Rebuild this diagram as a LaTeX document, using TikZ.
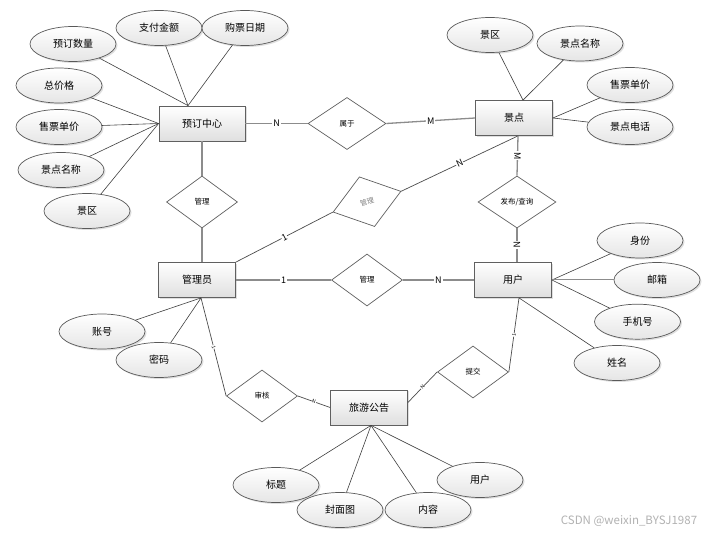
\documentclass[tikz,border=0pt]{standalone}
\usepackage{fontspec}
\setmainfont{Noto Sans CJK SC}
\usetikzlibrary{shapes.geometric,shadows,calc}
\begin{document}
\begin{tikzpicture}[x=1pt,y=-1pt,
  shad/.style={drop shadow={opacity=0.25,shadow xshift=1.5pt,shadow yshift=-1.5pt}},
  ent/.style={rectangle, draw=gray!75!black, line width=0.8pt, top color=white, bottom color=gray!25,
    minimum width=77pt, minimum height=35pt, inner sep=0pt, font=\fontsize{10}{12}\selectfont, shad},
  attr/.style={ellipse, draw=gray!70!black, line width=0.7pt, top color=white, bottom color=gray!20,
    minimum width=86pt, minimum height=35pt, inner sep=0pt, font=\fontsize{10}{12}\selectfont, shad},
  rel/.style={diamond, draw=gray!75!black, line width=0.7pt, fill=white, aspect=1.4,
    minimum width=71pt, minimum height=52pt, inner sep=0pt, font=\fontsize{7.5}{9}\selectfont},
  al/.style={draw=black!75, line width=0.6pt},
  rl/.style={draw=gray!90, line width=1.3pt},
  dl/.style={draw=black!70, line width=0.7pt},
  lab/.style={fill=white, inner sep=0.8pt, font=\fontsize{9}{10}\selectfont},
  tiny/.style={fill=white, inner sep=0.3pt, font=\fontsize{5}{5}\selectfont, sloped}
]
\useasboundingbox (0,0) rectangle (723,534);
\fill[white] (0,0) rectangle (723,534);

% entities
\node[ent, minimum width=86pt] (yd) at (202,123.5) {预订中心};
\node[ent] (jd) at (514,118) {景点};
\node[ent] (gly) at (197,280) {管理员};
\node[ent] (yh) at (513,280) {用户};
\node[ent] (ly) at (369,407.5) {旅游公告};

% relationships
\node[rel, minimum width=78pt] (sy) at (347,123.5) {属于};
\node[rel] (gl1) at (202,202) {管理};
\node[rel, rotate=17, text=gray, font=\fontsize{7}{8}\selectfont] (gl2) at (367,201.7) {管理};
\node[rel, minimum width=78pt] (fb) at (517,202) {发布/查询};
\node[rel] (gl3) at (367,280) {管理};
\node[rel] (sh) at (262,396) {审核};
\node[rel] (tj) at (473,372) {提交};

% attributes of 预订中心
\node[attr] (a1) at (73,44) {预订数量};
\node[attr] (a2) at (159,28) {支付金额};
\node[attr] (a3) at (245,28) {购票日期};
\node[attr] (a4) at (59,85.5) {总价格};
\node[attr] (a5) at (59,127) {售票单价};
\node[attr] (a6) at (61,170) {景点名称};
\node[attr] (a7) at (87,211) {景区};
% attributes of 景点
\node[attr] (b1) at (490,35) {景区};
\node[attr] (b2) at (580,43.5) {景点名称};
\node[attr] (b3) at (630,85) {售票单价};
\node[attr] (b4) at (630,127) {景点电话};
% attributes of 用户
\node[attr] (c1) at (640,240.5) {身份};
\node[attr] (c2) at (657,280) {邮箱};
\node[attr] (c3) at (637.5,321.7) {手机号};
\node[attr] (c4) at (617,363) {姓名};
% attributes of 管理员
\node[attr] (d1) at (102,331.5) {账号};
\node[attr] (d2) at (159,360) {密码};
% attributes of 旅游公告
\node[attr] (e1) at (276,485) {标题};
\node[attr] (e2) at (340,510) {封面图};
\node[attr] (e3) at (428,510) {内容};
\node[attr] (e4) at (480,480) {用户};

% attachment points
\coordinate (ydT) at ($(yd.north)+(-14,0)$);
\coordinate (jdT) at ($(jd.north)+(9,0)$);
\coordinate (jdB) at ($(jd.south)+(4,0)$);
\coordinate (yhB) at ($(yh.south)+(6,0)$);
\coordinate (glyB) at ($(gly.south)+(4,0)$);
\coordinate (lyB) at ($(ly.south)+(2,0)$);
\coordinate (lyR) at ($(ly.east)+(0,-5)$);

% attribute lines
\draw[al] (a1) -- (ydT);
\draw[al] (a2) -- (ydT);
\draw[al] (a3) -- (ydT);
\draw[al] (a4) -- (yd.west);
\draw[al] (a5) -- (yd.west);
\draw[al] (a6) -- (yd.west);
\draw[al] (a7) -- (yd.west);
\draw[al] (b1) -- (jdT);
\draw[al] (b2) -- (jdT);
\draw[al] (b3) -- (jd.east);
\draw[al] (b4) -- (jd.east);
\draw[al] (c1) -- (yh.east);
\draw[rl, line width=1pt] (c2) -- (yh.east);
\draw[al] (c3) -- (yh.east);
\draw[al] (c4) -- (yhB);
\draw[al] (d1) -- (glyB);
\draw[al] (d2) -- (glyB);
\draw[al] (e1) -- (lyB);
\draw[al] (e2) -- (lyB);
\draw[al] (e3) -- (lyB);
\draw[al] (e4) -- (lyB);

% relationship connectors
\draw[rl] (yd.east) -- node[lab] {N} (sy.west);
\draw[rl] (sy.east) -- node[lab] {M} (jd.west);
\draw[rl] (yd.south) -- (gl1.north);
\draw[rl] ($(gl1.south)$) -- ($(gly.north)+(5,0)$);
\draw[dl] (gly.north east) -- node[lab, sloped, inner sep=0.5pt] {1} (gl2.west);
\draw[dl] (gl2.east) -- node[lab, sloped, inner sep=0.5pt] {N} (jdB);
\draw[rl] (jdB) -- node[lab, rotate=-90] {M} (fb.north);
\draw[rl] (fb.south) -- node[lab, rotate=-90] {N} ($(yh.north)+(4,0)$);
\draw[rl] (gly.east) -- node[lab] {1} (gl3.west);
\draw[rl] (gl3.east) -- node[lab] {N} (yh.west);
\draw[dl] (glyB) -- node[tiny] {1} (sh.west);
\draw[dl] (sh.east) -- node[tiny] {N} (ly.west);
\draw[dl] (yhB) -- node[tiny] {1} (tj.east);
\draw[dl] (tj.west) -- node[tiny] {N} (lyR);

% watermark
\node[text=gray!60, font=\fontsize{11.5}{12}\selectfont, inner sep=0pt] (wm) at (629,521.5) {CSDN @weixin\_BYSJ1987};
\end{tikzpicture}
\end{document}
